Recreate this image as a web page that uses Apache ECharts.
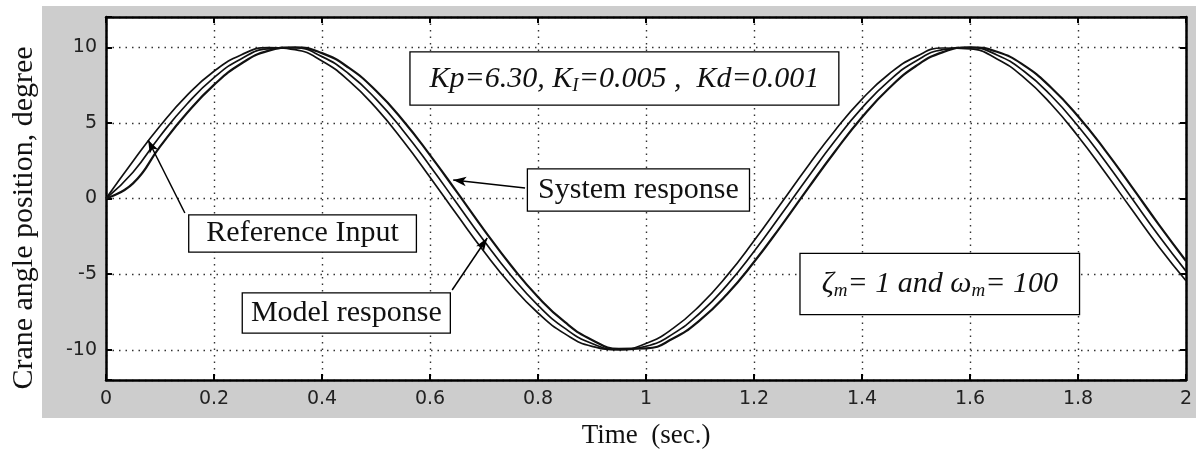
<!DOCTYPE html>
<html><head><meta charset="utf-8">
<script src="https://cdn.jsdelivr.net/npm/echarts@6/dist/echarts.min.js"></script>
<style>html,body{margin:0;padding:0;background:#fff}#c{width:1196px;height:450px}</style>
</head><body><div id="c"></div>
<script>
const time = [0,0.05,0.1,0.15,0.2,0.25,0.3,0.35,0.4,0.45,0.5,0.55,0.6,0.65,0.7,0.75,0.8,0.85,0.9,0.95,
  1,1.05,1.1,1.15,1.2,1.25,1.3,1.35,1.4,1.45,1.5,1.55,1.6,1.65,1.7,1.75,1.8,1.85,1.9,1.95,2];
const referenceInput = [0,2.47,4.79,6.82,8.41,9.49,9.98,9.84,9.09,7.78,5.99,3.82,1.41,-1.08,-3.51,-5.72,-7.57,-8.95,-9.78,-9.99,
  -9.59,-8.59,-7.06,-5.10,-2.79,-0.33,2.15,4.50,6.57,8.23,9.38,9.95,9.89,9.23,7.99,6.25,4.12,1.74,-0.75,-3.20,-5.44];
const modelResponse = [0,1.74,4.12,6.25,7.99,9.23,9.89,9.95,9.38,8.23,6.57,4.50,2.15,-0.33,-2.80,-5.09,-7.06,-8.59,-9.59,-9.99,
  -9.77,-8.95,-7.57,-5.73,-3.51,-1.08,1.41,3.82,5.99,7.78,9.09,9.84,9.98,9.49,8.41,6.81,4.79,2.48,0.00,-2.48,-4.80];
const systemResponse = [0,1.00,3.43,5.65,7.51,8.91,9.76,10.00,9.61,8.63,7.12,5.16,2.87,0.42,-2.07,-4.43,-6.51,-8.18,-9.35,-9.94,
  -9.91,-9.26,-8.04,-6.33,-4.20,-1.82,0.67,3.11,5.37,7.29,8.76,9.68,10.00,9.70,8.80,7.34,5.44,3.20,0.75,-1.74,-4.13];
const yTickLabels = [-10,-5,0,5,10];

const serif = '"Liberation Serif", "Times New Roman", serif';
const tickFont = '"DejaVu Sans", sans-serif';
const pairs = arr => time.map((t, i) => [t, arr[i]]);

const boxLabel = (pad, extra) => Object.assign({
  show: true, position: 'inside', color: '#111', fontFamily: serif, fontSize: 30,
  backgroundColor: '#fff', borderColor: '#000', borderWidth: 1.3, padding: pad
}, extra || {});

const richIt = {
  i: {fontFamily: serif, fontSize: 30, fontStyle: 'italic', color: '#111'},
  s: {fontFamily: serif, fontSize: 19, fontStyle: 'italic', color: '#111', padding: [14, 0, 0, 0]}
};

const chart = echarts.init(document.getElementById('c'), null, {renderer: 'canvas'});
const axisCommon = {
  axisLine: {show: true, onZero: false, lineStyle: {color: '#000', width: 2.5}},
  axisTick: {show: true, inside: true, length: 6, lineStyle: {color: '#000', width: 2}}
};
const gridLine = {show: true, lineStyle: {color: '#333', width: 1.4, type: [1.5, 5]}};
chart.setOption({
  animation: false,
  backgroundColor: '#fff',
  graphic: [
    {type: 'rect', z: -100, shape: {x: 42, y: 6, width: 1154, height: 412}, style: {fill: '#cdcdcd'}},
    {type: 'text', x: 24, y: 218, rotation: Math.PI / 2,
     style: {text: 'Crane angle position, degree', fontFamily: serif, fontSize: 30, fill: '#111',
             align: 'center', verticalAlign: 'middle'}}
  ],
  grid: {left: 106, top: 17, width: 1080, height: 363, show: true, backgroundColor: '#fff',
         borderWidth: 0, z: -1, outerBoundsMode: 'none', containLabel: false},
  xAxis: [
    Object.assign({
      type: 'value', min: 0, max: 2, interval: 0.2, position: 'bottom',
      name: 'Time  (sec.)', nameLocation: 'middle', nameGap: 42,
      nameTextStyle: {fontFamily: serif, fontSize: 27, color: '#111'},
      axisLabel: {margin: 10, fontFamily: tickFont, fontSize: 19, color: '#222'},
      splitLine: gridLine
    }, axisCommon),
    Object.assign({
      type: 'value', min: 0, max: 2, interval: 0.2, position: 'top',
      axisLabel: {show: false}, splitLine: {show: false}
    }, axisCommon)
  ],
  yAxis: [
    Object.assign({
      type: 'value', min: -12, max: 12, splitNumber: 4, position: 'left',
      axisLabel: {margin: 9, fontFamily: tickFont, fontSize: 19, color: '#222',
        formatter: v => yTickLabels.indexOf(v) >= 0 ? String(v) : ''},
      splitLine: gridLine
    }, axisCommon),
    Object.assign({
      type: 'value', min: -12, max: 12, splitNumber: 4, position: 'right',
      axisLabel: {show: false}, splitLine: {show: false}
    }, axisCommon)
  ],
  series: [
    {
      name: 'Reference Input', type: 'line', smooth: true, symbol: 'none', z: 3,
      lineStyle: {color: '#111', width: 1.7},
      data: pairs(referenceInput),
      markLine: {
        silent: true, symbol: ['none', 'arrow'], symbolSize: [7, 13],
        lineStyle: {color: '#000', width: 1.5, type: 'solid'}, label: {show: false},
        data: [
          [{coord: [0.146, -0.96]}, {coord: [0.078, 3.87]}],
          [{coord: [0.776, 0.69]}, {coord: [0.643, 1.22]}],
          [{coord: [0.641, -6.05]}, {coord: [0.706, -2.61]}]
        ]
      },
      markPoint: {
        silent: true, symbol: 'rect', symbolSize: 1, itemStyle: {color: 'rgba(0,0,0,0)'},
        data: [
          {coord: [0.960, 7.93], label: boxLabel([10, 19, 9, 19], {
            formatter: '{i|Kp=6.30, K}{s|I}{i|=0.005 ,  Kd=0.001}', rich: richIt})},
          {coord: [0.986, 0.56], label: boxLabel([6, 10, 5, 10], {formatter: 'System response'})},
          {coord: [0.364, -2.31], label: boxLabel([3, 17, 3, 17], {formatter: 'Reference Input'})},
          {coord: [0.445, -7.57], label: boxLabel([5, 8, 4, 8], {formatter: 'Model response'})},
          {coord: [1.544, -5.65], label: boxLabel([14, 21, 13, 21], {
            formatter: '{i|ζ}{s|m}{i|= 1 and ω}{s|m}{i|= 100}', rich: richIt})}
        ]
      }
    },
    {
      name: 'Model response', type: 'line', smooth: true, symbol: 'none', z: 3,
      lineStyle: {color: '#111', width: 1.7},
      data: pairs(modelResponse)
    },
    {
      name: 'System response', type: 'line', smooth: true, symbol: 'none', z: 3,
      lineStyle: {color: '#111', width: 2.2},
      data: pairs(systemResponse)
    }
  ]
});
</script></body></html>
